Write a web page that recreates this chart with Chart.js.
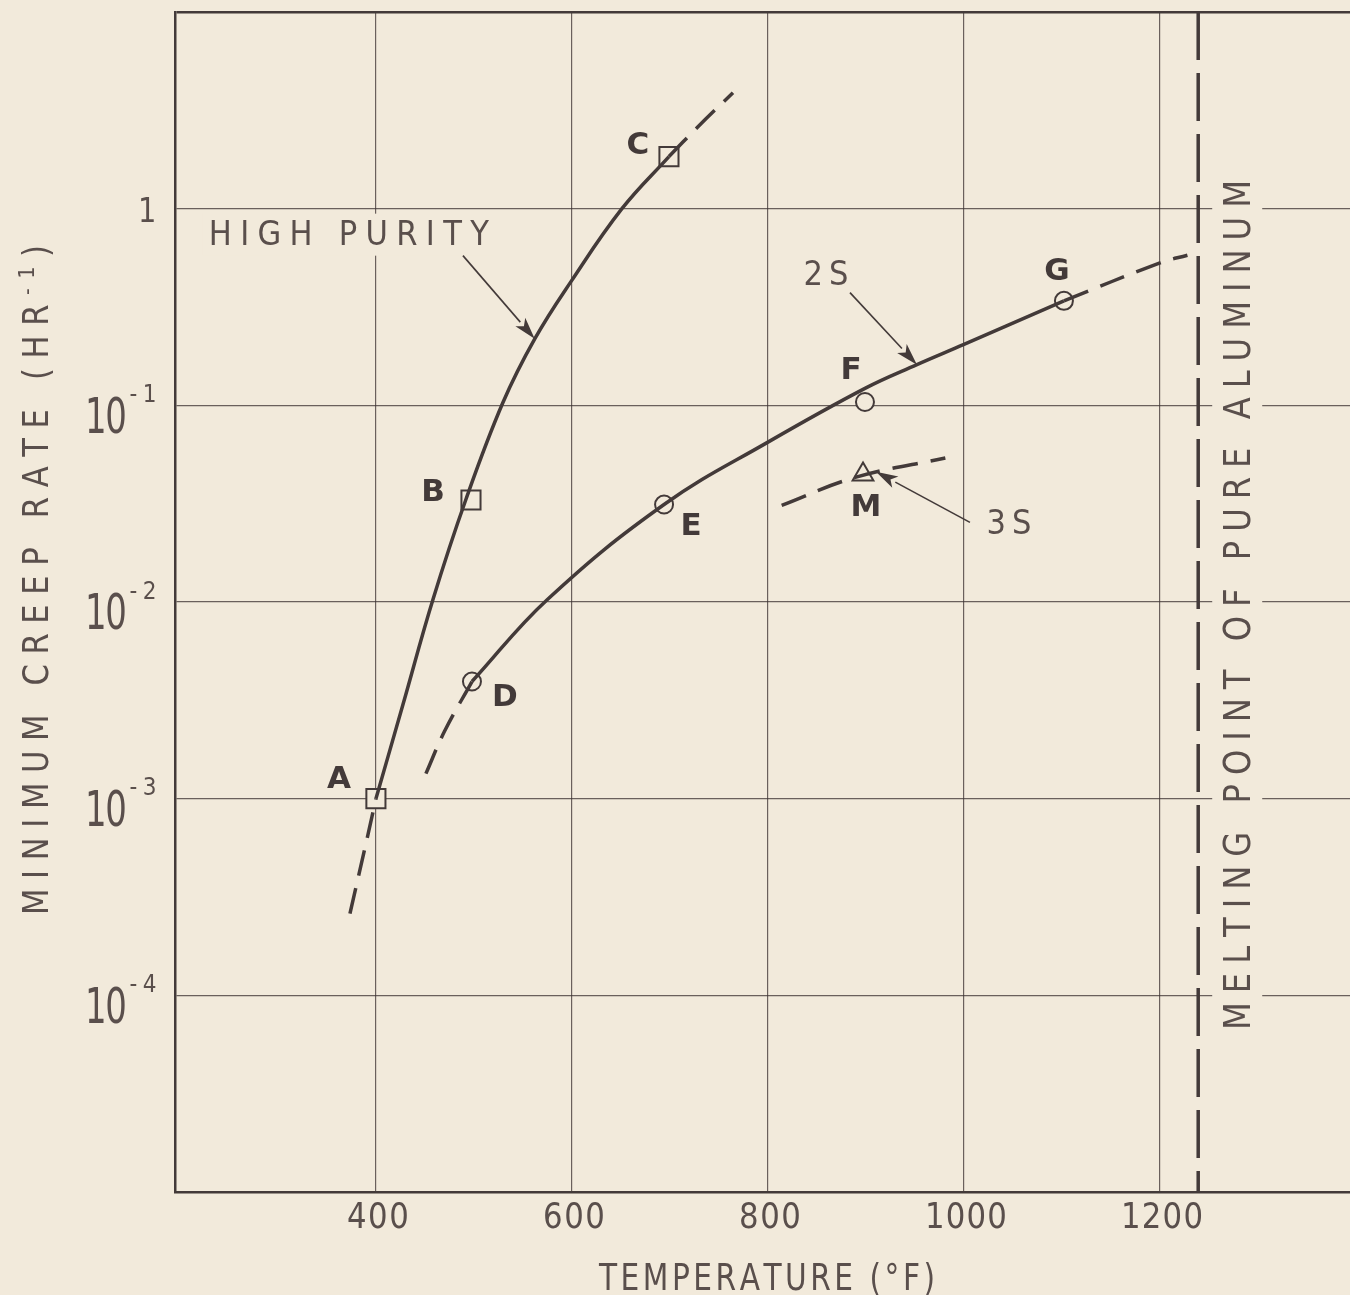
<!DOCTYPE html>
<html>
<head>
    <title>Minimum Creep Rate of Aluminum</title>
    <script src="https://cdn.jsdelivr.net/npm/chart.js"></script>
    <style>
        body { margin: 0; background: #f2eadb; overflow: hidden; }
    </style>
</head>
<body>
    <canvas id="creepChart" width="1372" height="1295"></canvas>
    <script>
        // temperature in deg F, minimum creep rate in 1/hr

        // high purity aluminum, solid part A-B-C and dashed extensions
        const highPurityT = [400, 427.6, 458.2, 491.8, 529.6, 562.2, 599, 651, 699];
        const highPurityRate = [0.001, 0.00301, 0.0103, 0.0332, 0.1033, 0.2183, 0.4256, 1.0, 1.84];
        const highPurityLowT = [373.5, 392, 400];
        const highPurityLowRate = [0.00026, 0.00066, 0.001];
        const highPurityHighT = [699, 727.6, 764.3];
        const highPurityHighRate = [1.84, 2.58, 3.89];

        // 2S alloy, solid part D-E-F-G and dashed extensions
        const alloy2sT = [498, 575, 694, 800, 899, 952, 1000, 1102];
        const alloy2sRate = [0.00394, 0.0103, 0.0313, 0.065, 0.122, 0.161, 0.204, 0.34];
        const alloy2sLowT = [451, 470, 498];
        const alloy2sLowRate = [0.00134, 0.0022, 0.00394];
        const alloy2sHighT = [1102, 1200, 1228];
        const alloy2sHighRate = [0.34, 0.53, 0.58];

        // 3S alloy, dashed through M
        const alloy3sT = [814, 889, 981];
        const alloy3sRate = [0.031, 0.043, 0.054];

        // lettered test points
        const pointLetters = ['A', 'B', 'C', 'D', 'E', 'F', 'G', 'M'];
        const pointT = [400, 497, 699, 498, 694, 899, 1102, 897];
        const pointRate = [0.001, 0.033, 1.84, 0.00394, 0.0313, 0.104, 0.34, 0.0445];
        const pointShape = ['rect', 'rect', 'rect', 'circle', 'circle', 'circle', 'circle', 'triangle'];

        const meltingPointT = 1239;
        const xTickValues = [400, 600, 800, 1000, 1200];
        const yDecades = [-5, -4, -3, -2, -1, 0, 1];
        const yLabelDecades = [-4, -3, -2, -1, 0];

        // callouts: text position, arrow tail and arrow tip, all in data units
        const notes = [
            { text: 'HIGH PURITY', at: [372.4, 0.755], tail: [488.8, 0.577], tip: [562, 0.218] },
            { text: '2S', at: [859.2, 0.473], tail: [883.7, 0.374], tip: [952, 0.161] },
            { text: '3S', at: [1045.9, 0.0256], tail: [1006.1, 0.0254], tip: [910.2, 0.046] }
        ];

        const paper = '#f2eadb';
        const ink = '#433a39';
        const textInk = '#5a4f4c';
        const FONT = '"DejaVu Sans", "Liberation Sans", sans-serif';

        // letter offsets from their marker, px
        const letterOffset = {
            A: [-37, -22], B: [-38, -10], C: [-31, -14], D: [33, 13],
            E: [27, 19], F: [-14, -34], G: [-7, -32], M: [3, 31]
        };
        const noteWidth = { 'HIGH PURITY': 280, '2S': 45, '3S': 45 };

        function xy(ts, rs) {
            return ts.map((t, i) => ({ x: t, y: rs[i] }));
        }

        function curve(data, dashed) {
            return {
                data: data,
                showLine: true,
                borderColor: ink,
                borderWidth: 3.5,
                borderDash: dashed ? [26, 13] : [],
                pointRadius: 0,
                tension: 0.4,
                fill: false
            };
        }

        // draws characters one by one so the spacing fills a given width;
        // squeeze narrows each glyph like hand lettering
        function spacedText(ctx, parts, cx, cy, width, angle, squeeze) {
            const sq = squeeze || 1;
            const chars = [];
            parts.forEach(p => {
                const font = (p.weight || 'normal') + ' ' + p.size + 'px ' + FONT;
                ctx.font = font;
                for (const ch of p.text) {
                    chars.push({ ch: ch, font: font, w: ctx.measureText(ch).width * sq, rise: p.rise || 0 });
                }
            });
            const natural = chars.reduce((s, c) => s + c.w, 0);
            const gap = chars.length > 1 ? (width - natural) / (chars.length - 1) : 0;
            ctx.save();
            ctx.translate(cx, cy);
            ctx.rotate(angle || 0);
            ctx.textAlign = 'left';
            ctx.textBaseline = 'alphabetic';
            const base = parts[0].size * 0.365;
            let x = -width / 2;
            chars.forEach(c => {
                ctx.font = c.font;
                ctx.save();
                ctx.translate(x, base - c.rise);
                ctx.scale(sq, 1);
                ctx.fillText(c.ch, 0, 0);
                ctx.restore();
                x += c.w + gap;
            });
            ctx.restore();
        }

        function arrow(ctx, x1, y1, x2, y2) {
            const a = Math.atan2(y2 - y1, x2 - x1);
            const len = 22, half = 6.5;
            const bx = x2 - Math.cos(a) * len, by = y2 - Math.sin(a) * len;
            ctx.strokeStyle = ink;
            ctx.fillStyle = ink;
            ctx.lineWidth = 1.6;
            ctx.beginPath();
            ctx.moveTo(x1, y1);
            ctx.lineTo(bx, by);
            ctx.stroke();
            ctx.beginPath();
            ctx.moveTo(x2, y2);
            ctx.lineTo(bx - Math.sin(a) * half, by + Math.cos(a) * half);
            ctx.lineTo(x2 - Math.cos(a) * len * 0.75, y2 - Math.sin(a) * len * 0.75);
            ctx.lineTo(bx + Math.sin(a) * half, by - Math.cos(a) * half);
            ctx.closePath();
            ctx.fill();
        }

        const paperPlugin = {
            id: 'paper',
            beforeDraw(chart) {
                const ctx = chart.ctx;
                ctx.save();
                ctx.fillStyle = paper;
                ctx.fillRect(0, 0, chart.width, chart.height);
                ctx.restore();
            }
        };

        const lettering = {
            id: 'lettering',
            afterDatasetsDraw(chart) {
                const ctx = chart.ctx;
                const xs = chart.scales.x, ys = chart.scales.y;
                const px = v => xs.getPixelForValue(v);
                const py = v => ys.getPixelForValue(v);
                ctx.save();
                ctx.fillStyle = textInk;

                // x tick labels
                xTickValues.forEach(v => {
                    const s = String(v);
                    spacedText(ctx, [{ text: s, size: 35 }], px(v) + 2, 1215, s.length * 20 + 2, 0, 0.88);
                });

                // y tick labels as powers of ten
                yLabelDecades.forEach(k => {
                    const y = py(Math.pow(10, k));
                    if (k === 0) {
                        spacedText(ctx, [{ text: '1', size: 34 }], 147, y + 1, 18, 0, 0.85);
                        return;
                    }
                    spacedText(ctx, [{ text: '10', size: 50 }], 106, y + 9, 42, 0, 0.68);
                    spacedText(ctx, [{ text: '-' + (-k), size: 24 }], 143, y - 12, 27, 0, 0.9);
                });

                // axis titles
                spacedText(ctx, [{ text: 'TEMPERATURE (°F)', size: 38 }], 767, 1276, 336, 0, 0.78);
                spacedText(ctx, [
                    { text: 'MINIMUM CREEP RATE (HR', size: 36 },
                    { text: '-1', size: 22, rise: 14 },
                    { text: ')', size: 36 }
                ], 35, 580, 670, -Math.PI / 2, 0.85);

                // melting point label, set on a clear strip
                const mx = px(meltingPointT) + 38;
                ctx.fillStyle = paper;
                ctx.fillRect(mx - 24, 160, 50, 890);
                ctx.fillStyle = textInk;
                spacedText(ctx, [{ text: 'MELTING POINT OF PURE ALUMINUM', size: 38 }], mx, 605, 850, -Math.PI / 2, 0.85);

                // callouts with arrows
                notes.forEach(n => {
                    const w = noteWidth[n.text];
                    const cx = px(n.at[0]), cy = py(n.at[1]);
                    if (n.text === 'HIGH PURITY') {
                        ctx.fillStyle = paper;
                        ctx.fillRect(cx - w / 2 - 6, cy - 19, w + 12, 42);
                    }
                    ctx.fillStyle = textInk;
                    spacedText(ctx, [{ text: n.text, size: 34 }], cx, cy, w, 0, 0.9);
                    arrow(ctx, px(n.tail[0]), py(n.tail[1]), px(n.tip[0]), py(n.tip[1]));
                });

                // point letters
                ctx.fillStyle = ink;
                ctx.font = 'bold 31px ' + FONT;
                ctx.textAlign = 'center';
                ctx.textBaseline = 'alphabetic';
                pointLetters.forEach((L, i) => {
                    const off = letterOffset[L];
                    ctx.fillText(L, px(pointT[i]) + off[0], py(pointRate[i]) + off[1] + 11);
                });
                ctx.restore();
            }
        };

        const ctx = document.getElementById('creepChart').getContext('2d');
        new Chart(ctx, {
            type: 'scatter',
            data: {
                datasets: [
                    curve(xy(highPurityT, highPurityRate), false),
                    curve(xy(highPurityLowT, highPurityLowRate), true),
                    curve(xy(highPurityHighT, highPurityHighRate), true),
                    curve(xy(alloy2sT, alloy2sRate), false),
                    curve(xy(alloy2sLowT, alloy2sLowRate), true),
                    curve(xy(alloy2sHighT, alloy2sHighRate), true),
                    curve(xy(alloy3sT, alloy3sRate), true),
                    {
                        data: [{ x: meltingPointT, y: 10 }, { x: meltingPointT, y: 1e-5 }],
                        showLine: true,
                        borderColor: ink,
                        borderWidth: 3.5,
                        borderDash: [48, 13],
                        pointRadius: 0
                    },
                    {
                        data: xy(pointT, pointRate),
                        showLine: false,
                        pointStyle: pointShape,
                        pointRadius: pointShape.map(s => s === 'rect' ? 13.5 : (s === 'triangle' ? 12 : 9)),
                        pointBackgroundColor: paper,
                        pointBorderColor: ink,
                        pointBorderWidth: 2
                    }
                ]
            },
            options: {
                responsive: false,
                animation: false,
                events: [],
                layout: { autoPadding: false, padding: { left: 175, top: 12, right: 16, bottom: 103 } },
                plugins: {
                    legend: { display: false },
                    tooltip: { enabled: false }
                },
                scales: {
                    x: {
                        type: 'linear',
                        min: 195,
                        max: 1400,
                        afterBuildTicks: scale => {
                            scale.ticks = xTickValues.map(v => ({ value: v }));
                        },
                        ticks: { display: false },
                        grid: { color: 'rgba(60,50,50,0.75)', lineWidth: 1.2, drawTicks: false },
                        border: { display: true, color: ink, width: 2.5 }
                    },
                    y: {
                        type: 'logarithmic',
                        min: 1e-5,
                        max: 10,
                        afterBuildTicks: scale => {
                            scale.ticks = yDecades.map(k => ({ value: Math.pow(10, k) }));
                        },
                        ticks: { display: false },
                        grid: {
                            color: c => c.tick && c.tick.value === 10 ? ink : 'rgba(60,50,50,0.75)',
                            lineWidth: c => c.tick && c.tick.value === 10 ? 2.5 : 1.2,
                            drawTicks: false
                        },
                        border: { display: true, color: ink, width: 2.5 }
                    }
                }
            },
            plugins: [paperPlugin, lettering]
        });
    </script>
</body>
</html>
